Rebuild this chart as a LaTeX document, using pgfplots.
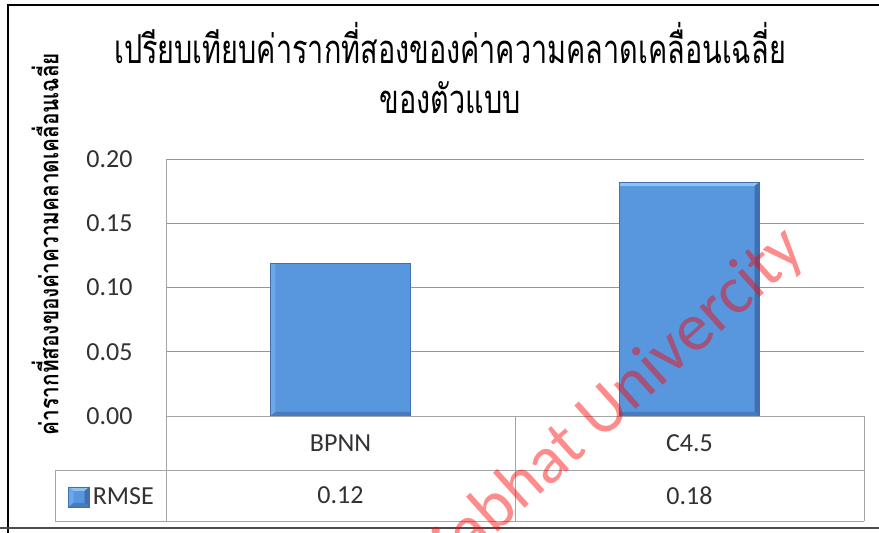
\documentclass[border=0pt]{standalone}
\usepackage{pgfplots}
\pgfplotsset{compat=1.18}
\usepackage{fontspec}
\setmainfont{Carlito}
\newfontfamily\thaititle[Script=Thai,FakeStretch=0.72]{Loma}
\newfontfamily\thailabel[Script=Thai,FakeStretch=0.8]{Loma}
\definecolor{barblue}{RGB}{88,150,222}
\definecolor{barlight}{RGB}{145,193,242}
\definecolor{barleft}{RGB}{110,167,231}
\definecolor{bardark}{RGB}{64,112,176}
\definecolor{barbottom}{RGB}{72,124,190}
\definecolor{gridgray}{RGB}{150,150,150}
\definecolor{tablegray}{RGB}{165,165,165}
\definecolor{textgray}{RGB}{50,50,50}
\newif\ifinbevel
\tikzset{
  bar3d/.style={fill=barblue, draw=bardark, line width=0.6pt,
    path picture={\ifinbevel\else\inbeveltrue
      \fill[barlight, draw=none] (path picture bounding box.north west) -- (path picture bounding box.north east)
        -- ([xshift=-5pt,yshift=-4pt]path picture bounding box.north east)
        -- ([xshift=5pt,yshift=-4pt]path picture bounding box.north west) -- cycle;
      \fill[barleft, draw=none] (path picture bounding box.north west) -- ([xshift=5pt,yshift=-4pt]path picture bounding box.north west)
        -- ([xshift=5pt,yshift=4pt]path picture bounding box.south west)
        -- (path picture bounding box.south west) -- cycle;
      \fill[bardark, draw=none] (path picture bounding box.north east) -- ([xshift=-5pt,yshift=-4pt]path picture bounding box.north east)
        -- ([xshift=-5pt,yshift=4pt]path picture bounding box.south east)
        -- (path picture bounding box.south east) -- cycle;
      \fill[barbottom, draw=none] (path picture bounding box.south west) -- ([xshift=5pt,yshift=4pt]path picture bounding box.south west)
        -- ([xshift=-5pt,yshift=4pt]path picture bounding box.south east)
        -- (path picture bounding box.south east) -- cycle;
    \fi}}
}
\pgfplotsset{squarelegend/.style={legend image code/.code={\draw[##1] (0pt,-10pt) rectangle (21pt,10pt);}}}
\begin{document}
\begin{tikzpicture}[x=1pt,y=1pt]
\useasboundingbox (0,0) rectangle (879,533);
\begin{axis}[
  at={(166pt,117pt)}, anchor=south west, scale only axis,
  width=698pt, height=257pt,
  xmin=-0.5, xmax=1.5, ymin=0, ymax=0.2,
  ybar, bar width=140pt,
  xtick={0,1}, xticklabels={BPNN,C4.5},
  ytick={0,0.05,0.1,0.15,0.2},
  ticklabel style={font=\fontsize{26}{30}\selectfont, text=textgray},
  xticklabel style={anchor=center, yshift=-27pt},
  yticklabel style={xshift=-30pt, /pgf/number format/.cd, fixed, fixed zerofill, precision=2, assume math mode=true},
  major tick length=0pt,
  axis line style={draw=none},
  ymajorgrids, grid style={draw=gridgray, line width=0.9pt},
  clip=false,
  title={เปรียบเทียบค่ารากที่สองของค่าความคลาดเคลื่อนเฉลี่ย\\ของตัวแบบ},
  title style={align=center, at={(axis description cs:0.407,1.33)}, anchor=center,
    font=\thaititle\fontsize{40}{50}\selectfont},
  ylabel={ค่ารากที่สองของค่าความคลาดเคลื่อนเฉลี่ย},
  ylabel style={at={(axis description cs:-0.1734,0.669)}, anchor=center,
    font=\thailabel\bfseries\fontsize{26}{30}\selectfont},
  legend style={at={(axis description cs:-0.0766,-0.315)}, anchor=center, draw=none, fill=none,
    font=\fontsize{26}{30}\selectfont, text=textgray, inner sep=0pt,
    nodes={inner sep=3pt}},
]
\addplot[bar3d, squarelegend]
  coordinates {(0,0.119) (1,0.182)};
\addlegendentry{RMSE}
\draw[tablegray, line width=0.9pt] (axis description cs:0,1) -- (axis description cs:0,-0.4086);
\draw[tablegray, line width=0.9pt] (axis description cs:0,0) -- (axis description cs:1,0);
\draw[tablegray, line width=0.9pt] (axis description cs:-0.159,-0.2101) -- (axis description cs:1,-0.2101);
\draw[tablegray, line width=0.9pt] (axis description cs:-0.159,-0.4086) -- (axis description cs:1,-0.4086);
\draw[tablegray, line width=0.9pt] (axis description cs:-0.159,-0.2101) -- (axis description cs:-0.159,-0.4086);
\draw[tablegray, line width=0.9pt] (axis description cs:0.5,0) -- (axis description cs:0.5,-0.4086);
\draw[tablegray, line width=0.9pt] (axis description cs:1,0) -- (axis description cs:1,-0.4086);
\node[font=\fontsize{26}{30}\selectfont, text=textgray] at (axis description cs:0.25,-0.309) {0.12};
\node[font=\fontsize{26}{30}\selectfont, text=textgray] at (axis description cs:0.75,-0.309) {0.18};
\end{axis}
\draw[black, line width=2.5pt] (8,-5) -- (8,528) -- (890,528);
\draw[black!70, line width=2pt] (0,5) -- (890,5);
\node[rotate=42, anchor=base east, text=red, text opacity=0.45, font=\fontsize{68}{72}\selectfont, inner sep=0pt] at (808,279) {Rajabhat Univercity};
\end{tikzpicture}
\end{document}
